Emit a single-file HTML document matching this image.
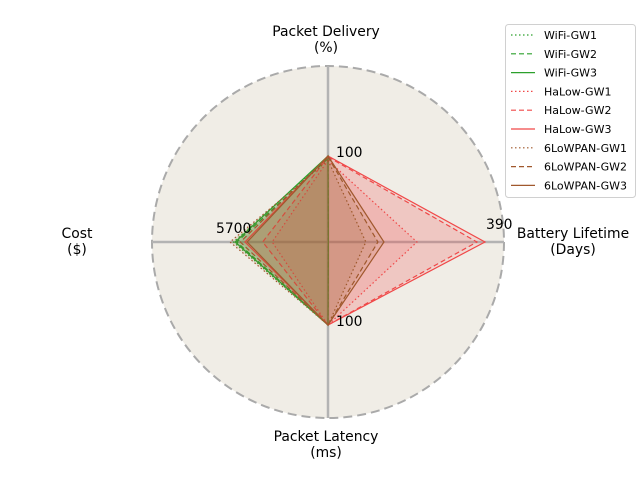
<!DOCTYPE html>
<html><head><meta charset="utf-8"><style>
body{margin:0;background:#fff}
svg{display:block;font-family:"DejaVu Sans","Liberation Sans",sans-serif}
</style></head><body>
<svg id="chart" width="640" height="480" viewBox="0 0 640 480">
<circle cx="328" cy="242" r="176" fill="#f0ede6" stroke="#aaaaaa" stroke-width="2" stroke-dasharray="9,5"/>
<g id="axes"></g>
<g id="series"></g>
<g id="labels" font-size="13.9" fill="#000"></g>
<g id="legend"></g>
</svg>
<script>
const axes = ["Packet Delivery\n(%)", "Battery Lifetime\n(Days)", "Packet Latency\n(ms)", "Cost\n($)"];
const axisMax = [100, 390, 100, 5700];
const seriesNames = ["WiFi-GW1","WiFi-GW2","WiFi-GW3","HaLow-GW1","HaLow-GW2","HaLow-GW3","6LoWPAN-GW1","6LoWPAN-GW2","6LoWPAN-GW3"];
const deliveryValues = [98, 97, 100, 95, 99, 100, 95, 99, 100];
const batteryValues = [1, 1, 1, 221, 370, 390, 94, 124, 139];
const latencyValues = [100, 100, 100, 100, 100, 100, 100, 100, 100];
const costValues = [5500, 5300, 5400, 3250, 3800, 4830, 5700, 5100, 4700];

const NS="http://www.w3.org/2000/svg";
const cx=328, cy=242, R=176;
const axisPix=[86,157,83,98];
const angles=[-Math.PI/2,0,Math.PI/2,Math.PI];
const colors={WiFi:"#2ca02c",HaLow:"#f04848","6LoWPAN":"#a0582d"};
const dashes=["1.5,2.5","5,3",""];
function rad(i,v){return v/axisMax[i]*axisPix[i];}
function pt(i,v){const r=rad(i,v);return [cx+r*Math.cos(angles[i]),cy+r*Math.sin(angles[i])];}
function mk(tag,attrs,parent){const e=document.createElementNS(NS,tag);for(const k in attrs)e.setAttribute(k,attrs[k]);parent.appendChild(e);return e;}

const gA=document.getElementById('axes');
for(let i=0;i<4;i++){
  const l=mk('line',{x1:cx,y1:cy,x2:cx+R*Math.cos(angles[i]),y2:cy+R*Math.sin(angles[i]),stroke:'#b3b3b3','stroke-width':2.5},gA);
  
  
}
const gS=document.getElementById('series');
const vals=[deliveryValues,batteryValues,latencyValues,costValues];
seriesNames.forEach((n,s)=>{
  const fam=n.split('-')[0];const col=colors[fam];
  const pts=[0,1,2,3].map(i=>pt(i,vals[i][s]).join(',')).join(' ');
  const p=mk('polygon',{points:pts,fill:col,'fill-opacity':0.12,stroke:col,'stroke-width':1.2,'stroke-dasharray':dashes[s%3]},gS);
  
  
});
const gL=document.getElementById('labels');
const axisLabelPos=[[326,36],[573,238],[326,441],[77,238]];
axes.forEach((a,i)=>{
  const t=mk('text',{x:axisLabelPos[i][0],y:axisLabelPos[i][1],'text-anchor':'middle'},gL);
  
  
  a.split('\n').forEach((ln,k)=>{const ts=mk('tspan',{x:axisLabelPos[i][0],dy:k?16:0},t);ts.textContent=ln;});
});
const maxLabelPos=[[336,157],[486,229],[336,326],[216,233]];
axisMax.forEach((m,i)=>{
  const t=mk('text',{x:maxLabelPos[i][0],y:maxLabelPos[i][1]},gL);
  
  
  t.textContent=m;
});
const gLeg=document.getElementById('legend');
mk('rect',{x:505.5,y:24.5,width:130,height:173,rx:3,fill:'#fff',stroke:'#d0d0d0'},gLeg);
seriesNames.forEach((n,s)=>{
  const y=35+s*18.8;const col=colors[n.split('-')[0]];
  const l=mk('line',{x1:511,y1:y,x2:535,y2:y,stroke:col,'stroke-width':1.2,'stroke-dasharray':dashes[s%3]},gLeg);
  
  
  const t=mk('text',{x:544,y:y+4,'font-size':11},gLeg);
  
  
  t.textContent=n;
});
</script>
</body></html>
